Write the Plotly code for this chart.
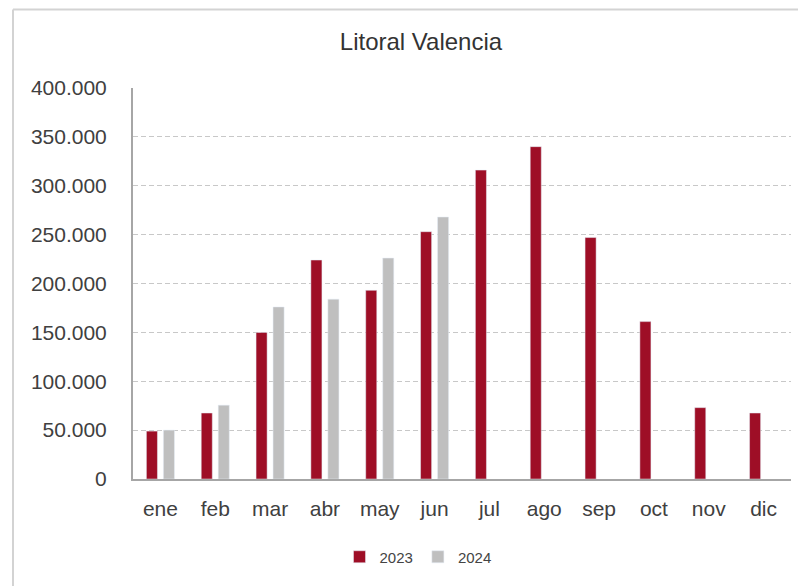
import plotly.graph_objects as go

months = ["ene", "feb", "mar", "abr", "may", "jun", "jul", "ago", "sep", "oct", "nov", "dic"]
v2023 = [49000, 67500, 150000, 224000, 193000, 253000, 316000, 340000, 247000, 161000, 73000, 67500]
v2024 = [50000, 75500, 176000, 184000, 226000, 268000, None, None, None, None, None, None]
yticks = [0, 50000, 100000, 150000, 200000, 250000, 300000, 350000, 400000]

fig = go.Figure()
fig.add_trace(go.Bar(x=months, y=v2023, name="2023", marker_color="#9E0E26"))
fig.add_trace(go.Bar(x=months, y=v2024, name="2024", marker_color="#BFBFBF"))

OFF = 8  # page offset of the plot div
W, H = 806 - OFF, 586 - OFF
# target page-pixel positions of the plot area
L, R, T, B = 133, 791, 88, 479
ml, mt = L - OFF, T - OFF
mr, mb = W - (R - OFF), H - (B - OFF)
pw, ph = W - ml - mr, H - mt - mb

def px(x):
    return (x - L) / pw

def py(y):
    return (B - y) / ph

fig.update_layout(
    width=W, height=H,
    margin=dict(l=ml, r=mr, t=mt, b=mb),
    paper_bgcolor="white", plot_bgcolor="white",
    separators=",.",
    font=dict(family="Liberation Sans, Arial, sans-serif", color="#404040"),
    title=dict(text="Litoral Valencia", x=(421 - OFF) / W, xanchor="center",
               y=1 - (42 - OFF) / H, yanchor="middle", font=dict(size=24, color="#333333")),
    barmode="group", bargap=0.38, bargroupgap=0.35,
    showlegend=True,
    legend=dict(orientation="h", x=(418 - OFF) / W, xanchor="center", xref="container",
                y=1 - (557 - OFF) / H, yref="container", yanchor="middle",
                font=dict(size=15, color="#444444"), itemwidth=30,
                traceorder="normal"),
    xaxis=dict(showline=True, linecolor="#A6A6A6", linewidth=2, ticks="",
               tickfont=dict(size=21, color="#404040"), showgrid=False,
               ticklabelstandoff=10),
    yaxis=dict(range=[0, 400000], tickvals=yticks, tickformat=",.0f",
               showline=True, linecolor="#A6A6A6", linewidth=2,
               gridcolor="#C8C8C8", griddash="5px,3px", gridwidth=1,
               tickfont=dict(size=21, color="#404040"), ticks="", ticklen=0,
               ticklabelstandoff=20, zeroline=False),
    shapes=[
        dict(type="line", xref="paper", yref="paper", x0=px(13), x1=px(820),
             y0=py(9.5), y1=py(9.5), line=dict(color="#D3D3D3", width=2)),
        dict(type="line", xref="paper", yref="paper", x0=px(13), x1=px(13),
             y0=py(9.5), y1=py(600), line=dict(color="#D3D3D3", width=2)),
    ],
)

fig.write_html("out.html")
